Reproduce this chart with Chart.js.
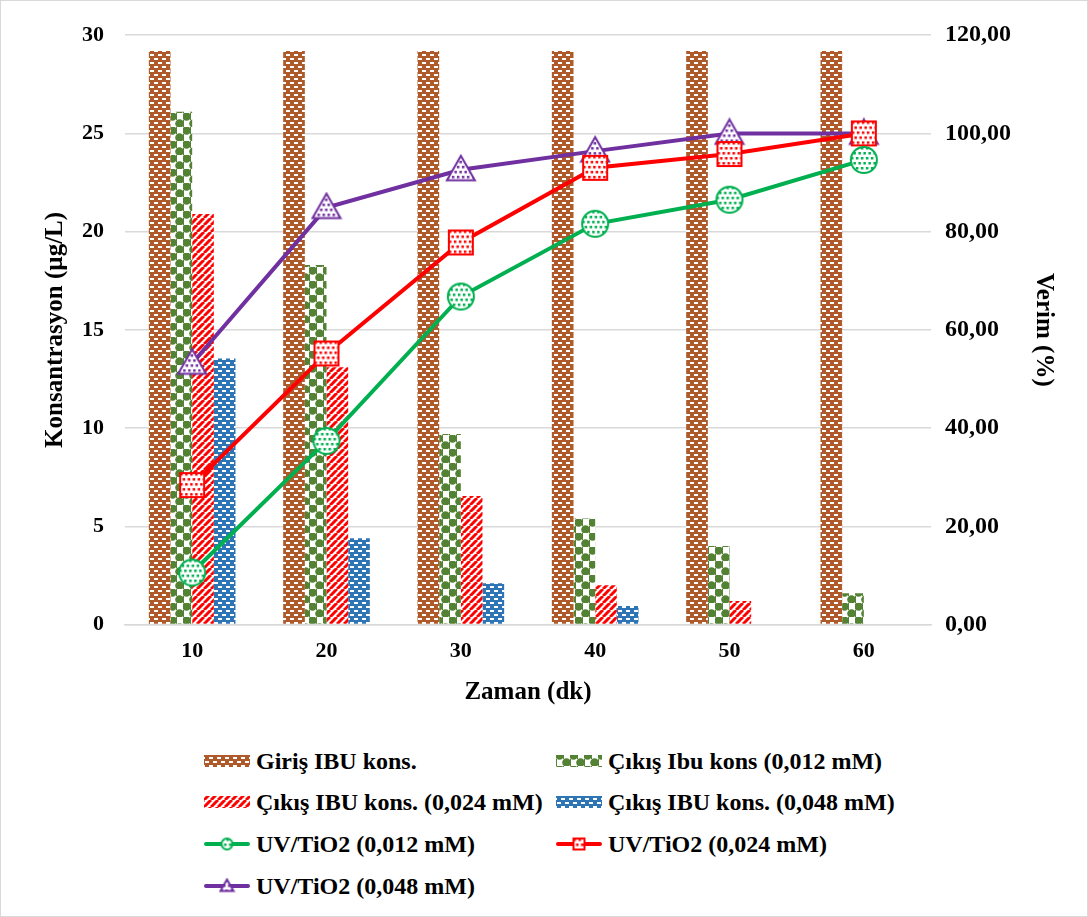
<!DOCTYPE html>
<html>
<head>
<meta charset="utf-8">
<script src="https://cdn.jsdelivr.net/npm/chart.js@4.4.1/dist/chart.umd.min.js"></script>
<style>
  html, body { margin: 0; padding: 0; background: #fff; }
  #wrap { position: relative; width: 1086px; height: 915px; border: 1px solid #d9d9d9; overflow: hidden; }
  #box { position: absolute; left: 0; top: 0; width: 1086px; height: 720px; }
  .leg { position: absolute; font-family: "Liberation Serif", "Times New Roman", serif; font-weight: bold; font-size: 24px; color: #000; display: flex; align-items: center; white-space: nowrap; }
  .leg canvas { margin-right: 6px; }
</style>
</head>
<body>
<div id="wrap">
  <div id="box"><canvas id="chart"></canvas></div>
  <div id="legend"></div>
</div>
<script>
const categories = ["10", "20", "30", "40", "50", "60"];

const girisIbu = [29.2, 29.2, 29.2, 29.2, 29.2, 29.2];
const cikis012 = [26.1, 18.3, 9.7, 5.4, 4.0, 1.6];
const cikis024 = [20.9, 13.1, 6.55, 2.0, 1.2, 0];
const cikis048 = [13.55, 4.4, 2.1, 0.95, 0, 0];

const verim012 = [10.6, 37.4, 66.8, 81.6, 86.5, 94.6];
const verim024 = [28.4, 55.2, 77.8, 93.0, 95.8, 100.0];
const verim048 = [53.2, 84.9, 92.6, 96.4, 100.0, 100.0];

const leftTicks = [0, 5, 10, 15, 20, 25, 30];
const rightTicks = [0, 20, 40, 60, 80, 100, 120];

const BROWN = "#ae5a2a";
const GREEN_BAR = "#548235";
const RED = "#ff0000";
const BLUE = "#2e75b6";
const GREEN = "#00b050";
const PURPLE = "#7030a0";

function tile(w, h, draw) {
  const c = document.createElement("canvas");
  c.width = w; c.height = h;
  draw(c.getContext("2d"));
  return c;
}

function dashTile(color) {
  return tile(8, 8, (g) => {
    g.fillStyle = color; g.fillRect(0, 0, 8, 8);
    g.fillStyle = "#fff";
    g.fillRect(1, 1, 4, 2);
    g.fillRect(5, 5, 3, 2);
    g.fillRect(0, 5, 1, 2);
  });
}

function sphereTile(color) {
  return tile(14, 14, (g) => {
    g.fillStyle = "#fff"; g.fillRect(0, 0, 14, 14);
    g.fillStyle = color;
    g.beginPath(); g.arc(3.5, 3.5, 4.3, 0, Math.PI * 2); g.fill();
    g.beginPath(); g.arc(10.5, 10.5, 4.3, 0, Math.PI * 2); g.fill();
    g.fillRect(0, 7, 1, 7);
    g.fillRect(7, 0, 1, 7);
  });
}

function stripeTile(color) {
  return tile(7, 7, (g) => {
    g.fillStyle = "#fff"; g.fillRect(0, 0, 7, 7);
    g.strokeStyle = color; g.lineWidth = 3;
    for (let k = -7; k <= 14; k += 7) {
      g.beginPath(); g.moveTo(k, 7); g.lineTo(k + 7, 0); g.stroke();
    }
  });
}

function pat(canvasTile) {
  return document.createElement("canvas").getContext("2d").createPattern(canvasTile, "repeat");
}

function dots(g, color, w, h) {
  g.fillStyle = color;
  for (let y = 2; y < h; y += 5) {
    for (let x = ((y / 5) % 2) * 2.5 + 1; x < w; x += 5) g.fillRect(x, y, 2.5, 2.5);
  }
}

function marker(shape, color, size) {
  const s = size + 4;
  return tile(s, s, (g) => {
    const c = s / 2, r = size / 2;
    g.beginPath();
    if (shape === "circle") g.arc(c, c, r, 0, Math.PI * 2);
    else if (shape === "rect") g.rect(c - r, c - r, size, size);
    else { g.moveTo(c, c - r); g.lineTo(c + r, c + r * 0.75); g.lineTo(c - r, c + r * 0.75); g.closePath(); }
    g.save(); g.clip();
    g.fillStyle = "#fff"; g.fillRect(0, 0, s, s);
    dots(g, color, s, s);
    g.restore();
    g.lineWidth = 2; g.strokeStyle = color; g.stroke();
  });
}

const brownPat = pat(dashTile(BROWN));
const greenPat = pat(sphereTile(GREEN_BAR));
const redPat = pat(stripeTile(RED));
const bluePat = pat(dashTile(BLUE));

const mCircle = marker("circle", GREEN, 26);
const mRect = marker("rect", RED, 24);
const mTri = marker("tri", PURPLE, 28);

const font = "'Liberation Serif', 'Times New Roman', serif";
const tickFont = { family: font, size: 22, weight: "bold" };
const titleFont = { family: font, size: 25, weight: "bold" };

function barSet(label, data, bg) {
  return { type: "bar", label, data, backgroundColor: bg, borderWidth: 0, yAxisID: "y", order: 2,
    barPercentage: 1.0, categoryPercentage: 0.645 };
}
function lineSet(label, data, color, pt) {
  return { type: "line", label, data, borderColor: color, backgroundColor: color, borderWidth: 4,
    pointStyle: pt, pointRadius: 14, tension: 0, yAxisID: "y1", order: 1 };
}

new Chart(document.getElementById("chart"), {
  data: {
    labels: categories,
    datasets: [
      barSet("Giriş IBU kons.", girisIbu, brownPat),
      barSet("Çıkış Ibu kons (0,012 mM)", cikis012, greenPat),
      barSet("Çıkış IBU kons. (0,024 mM)", cikis024, redPat),
      barSet("Çıkış IBU kons. (0,048 mM)", cikis048, bluePat),
      lineSet("UV/TiO2 (0,012 mM)", verim012, GREEN, mCircle),
      lineSet("UV/TiO2 (0,024 mM)", verim024, RED, mRect),
      lineSet("UV/TiO2 (0,048 mM)", verim048, PURPLE, mTri)
    ]
  },
  options: {
    responsive: true,
    maintainAspectRatio: false,
    animation: false,
    layout: { padding: { left: 40, right: 13, top: 18, bottom: 13 } },
    plugins: { legend: { display: false }, tooltip: { enabled: false } },
    scales: {
      x: {
        grid: { display: false, drawTicks: false },
        border: { color: "#d9d9d9", width: 1.5 },
        ticks: { color: "#000", font: tickFont, padding: 14 },
        title: { display: true, text: "Zaman (dk)", color: "#000", font: titleFont, padding: { top: -1, bottom: 0 } }
      },
      y: {
        position: "left", min: 0, max: 30,
        afterBuildTicks: (s) => { s.ticks = leftTicks.map((v) => ({ value: v })); },
        grid: { color: "#d9d9d9", lineWidth: 1.5, drawTicks: false },
        border: { display: false },
        ticks: { color: "#000", font: tickFont, padding: 21 },
        title: { display: true, text: "Konsantrasyon (µg/L)", color: "#000", font: titleFont, padding: { top: 0, bottom: -10 } }
      },
      y1: {
        position: "right", min: 0, max: 120,
        afterBuildTicks: (s) => { s.ticks = rightTicks.map((v) => ({ value: v })); },
        grid: { display: false, drawTicks: false },
        border: { display: false },
        ticks: { color: "#000", font: { family: font, size: 24, weight: "bold" }, padding: 14,
          callback: (v) => v.toFixed(2).replace(".", ",") },
        title: { display: true, text: "Verim (%)", color: "#000", font: titleFont, padding: { top: 16, bottom: 3 } }
      }
    }
  }
});

// legend
const legendItems = [
  { text: "Giriş IBU kons.", kind: "bar", fill: brownPat, x: 203, y: 760 },
  { text: "Çıkış Ibu kons (0,012 mM)", kind: "bar", fill: greenPat, x: 555, y: 760 },
  { text: "Çıkış IBU kons. (0,024 mM)", kind: "bar", fill: redPat, x: 203, y: 801 },
  { text: "Çıkış IBU kons. (0,048 mM)", kind: "bar", fill: bluePat, x: 555, y: 801 },
  { text: "UV/TiO2 (0,012 mM)", kind: "line", color: GREEN, m: marker("circle", GREEN, 11), x: 203, y: 843 },
  { text: "UV/TiO2 (0,024 mM)", kind: "line", color: RED, m: marker("rect", RED, 11), x: 555, y: 843 },
  { text: "UV/TiO2 (0,048 mM)", kind: "line", color: PURPLE, m: marker("tri", PURPLE, 13), x: 203, y: 885 }
];
const legendEl = document.getElementById("legend");
legendItems.forEach((it) => {
  const d = document.createElement("div");
  d.className = "leg";
  d.style.left = it.x + "px";
  d.style.top = (it.y - 15) + "px";
  d.style.height = "30px";
  const c = document.createElement("canvas");
  c.width = 46; c.height = 18;
  const g = c.getContext("2d");
  if (it.kind === "bar") {
    g.fillStyle = it.fill; g.fillRect(0, 3, 46, 12);
  } else {
    g.strokeStyle = it.color; g.lineWidth = 4; g.lineCap = "round";
    g.beginPath(); g.moveTo(2, 9); g.lineTo(44, 9); g.stroke();
    g.drawImage(it.m, 23 - it.m.width / 2, 9 - it.m.height / 2);
  }
  d.appendChild(c);
  const s = document.createElement("span");
  s.textContent = it.text;
  d.appendChild(s);
  legendEl.appendChild(d);
});
</script>
</body>
</html>
